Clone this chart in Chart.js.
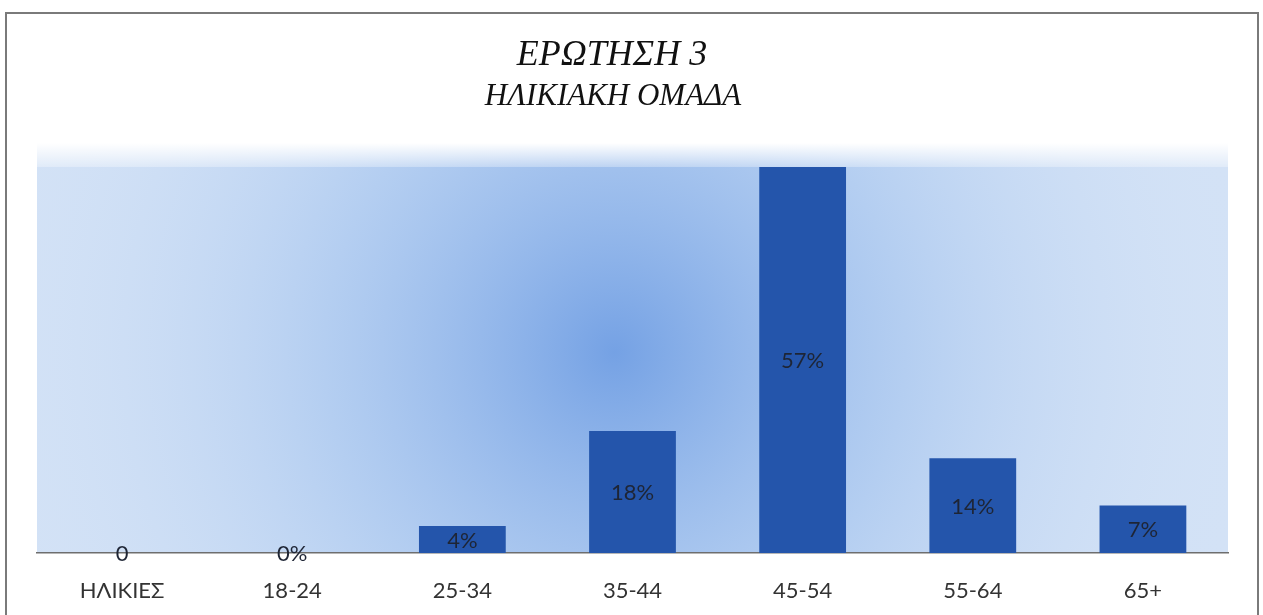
<!DOCTYPE html>
<html>
<head>
<meta charset="utf-8">
<script src="https://cdn.jsdelivr.net/npm/chart.js@4"></script>
<style>
  html, body { margin: 0; padding: 0; background: #fff; }
  #wrap { position: relative; width: 1263px; height: 615px; }
  #frame { position: absolute; left: 5px; top: 12px; width: 1250px; height: 620px;
           border: 2px solid #7a7a7a; pointer-events: none; }
</style>
</head>
<body>
<div id="wrap">
  <canvas id="myChart" width="1263" height="615"></canvas>
  <div id="frame"></div>
</div>
<script>
const ctx = document.querySelector("#myChart").getContext("2d")

const ageGroups = ["ΗΛΙΚΙΕΣ", "18-24", "25-34", "35-44", "45-54", "55-64", "65+"]
const percentValues = [0, 0, 4, 18, 57, 14, 7]
const valueLabels = ["0", "0%", "4%", "18%", "57%", "14%", "7%"]
const titleLines = ["ΕΡΩΤΗΣΗ 3", "ΗΛΙΚΙΑΚΗ ΟΜΑΔΑ"]

// soft blue backdrop behind the plot, like the office chart fill
const backdrop = {
  id: "backdrop",
  beforeDraw(chart) {
    const { ctx, chartArea: ca } = chart
    const top = ca.top - 24
    ctx.save()
    ctx.fillStyle = "#d3e2f6"
    ctx.fillRect(ca.left, top, ca.right - ca.left, ca.bottom - top)
    const cx = ca.left + (ca.right - ca.left) * 0.485
    const cy = ca.top + (ca.bottom - ca.top) * 0.48
    const rg = ctx.createRadialGradient(cx, cy, 0, cx, cy, 650)
    rg.addColorStop(0, "rgba(100,150,225,0.85)")
    rg.addColorStop(0.45, "rgba(155,190,237,0.55)")
    rg.addColorStop(1, "rgba(211,226,246,0)")
    ctx.fillStyle = rg
    ctx.fillRect(ca.left, top, ca.right - ca.left, ca.bottom - top)
    const lg = ctx.createLinearGradient(0, top, 0, ca.top)
    lg.addColorStop(0, "rgba(255,255,255,1)")
    lg.addColorStop(1, "rgba(255,255,255,0.3)")
    ctx.fillStyle = lg
    ctx.fillRect(ca.left, top, ca.right - ca.left, ca.top - top)
    ctx.restore()
  }
}

// the two italic title lines (sit a little left of centre in the original)
const titles = {
  id: "titles",
  afterDraw(chart) {
    const { ctx } = chart
    ctx.save()
    ctx.fillStyle = "#111"
    ctx.textAlign = "center"
    ctx.textBaseline = "middle"
    ctx.font = "italic 36px 'Liberation Serif', 'DejaVu Serif', serif"
    ctx.fillText(titleLines[0], 612, 56)
    ctx.font = "italic 31px 'Liberation Serif', 'DejaVu Serif', serif"
    ctx.fillText(titleLines[1], 613, 97)
    ctx.restore()
  }
}

// value text in the middle of every bar
const barLabels = {
  id: "barLabels",
  afterDatasetsDraw(chart) {
    const { ctx } = chart
    const meta = chart.getDatasetMeta(0)
    ctx.save()
    ctx.font = "22px Lato, 'Open Sans', sans-serif"
    ctx.fillStyle = "#1e2535"
    ctx.textAlign = "center"
    ctx.textBaseline = "middle"
    meta.data.forEach((bar, i) => {
      ctx.fillText(valueLabels[i], bar.x, (bar.y + bar.base) / 2 + 1)
    })
    ctx.restore()
  }
}

const ageChart = new Chart(ctx, {
  type: "bar",
  data: {
    labels: ageGroups,
    datasets: [{
      label: "Ηλικιακή ομάδα",
      data: percentValues,
      backgroundColor: "#2455ab",
      borderWidth: 0,
      categoryPercentage: 1,
      barPercentage: 0.51
    }]
  },
  options: {
    responsive: false,
    animation: false,
    layout: { padding: { left: 37, right: 35, top: 167, bottom: 0 } },
    plugins: {
      legend: { display: false },
      tooltip: { enabled: false }
    },
    scales: {
      x: {
        grid: { display: false, drawTicks: false },
        border: { display: true, color: "#6e6e6e", width: 1.5 },
        ticks: {
          color: "#333",
          padding: 25,
          font: { family: "Lato, 'Open Sans', sans-serif", size: 22 }
        },
        afterFit(scale) { scale.height = 62 }
      },
      y: {
        display: false,
        min: 0,
        max: 57
      }
    }
  },
  plugins: [backdrop, barLabels, titles]
})
</script>
</body>
</html>
